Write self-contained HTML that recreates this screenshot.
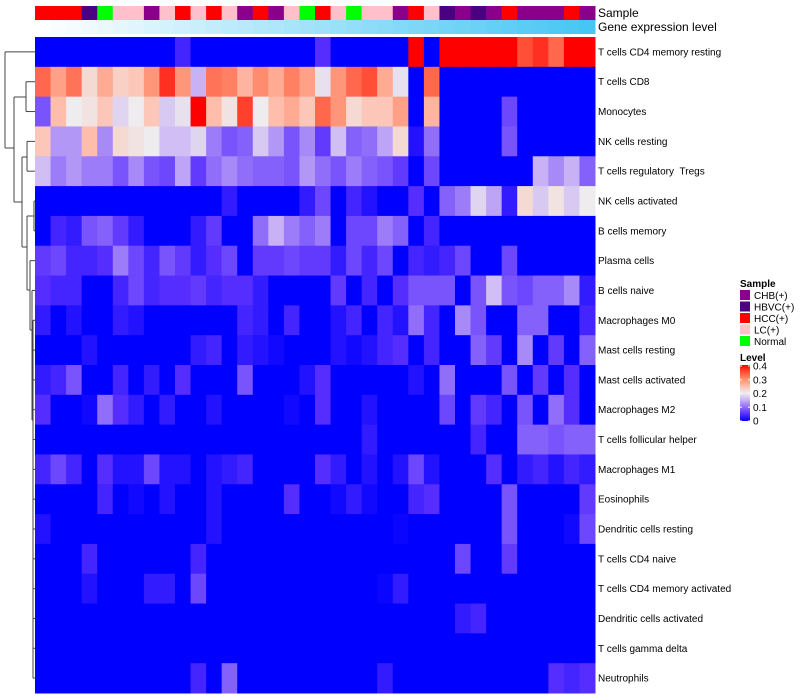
<!DOCTYPE html>
<html><head><meta charset="utf-8"><style>
body{margin:0;background:#fff;font-family:"Liberation Sans",sans-serif;}
svg{display:block}
</style></head><body>
<svg id="chart" width="800" height="700" viewBox="0 0 800 700" xmlns="http://www.w3.org/2000/svg" font-family="Liberation Sans, sans-serif"></svg>
<script>
const rowNames=["T cells CD4 memory resting","T cells CD8","Monocytes","NK cells resting","T cells regulatory \u00a0Tregs","NK cells activated","B cells memory","Plasma cells","B cells naive","Macrophages M0","Mast cells resting","Mast cells activated","Macrophages M2","T cells follicular helper","Macrophages M1","Eosinophils","Dendritic cells resting","T cells CD4 naive","T cells CD4 memory activated","Dendritic cells activated","T cells gamma delta","Neutrophils"];
const sampleGroups=["HCC","HCC","HCC","HBVC","Normal","LC","LC","CHB","LC","HCC","LC","HCC","LC","CHB","HCC","CHB","LC","Normal","HCC","LC","Normal","LC","LC","CHB","HCC","LC","HBVC","CHB","HBVC","CHB","HCC","CHB","CHB","CHB","HCC","CHB"];
const geneLevel=[0,0.03,0.06,0.08,0.11,0.14,0.17,0.2,0.23,0.26,0.29,0.32,0.35,0.38,0.41,0.44,0.47,0.5,0.52,0.55,0.58,0.61,0.64,0.67,0.7,0.72,0.75,0.78,0.8,0.83,0.86,0.89,0.91,0.94,0.97,1];
const v0=[0,0,0,0,0,0,0,0,0,0.04,0,0,0,0,0,0,0,0,0.05,0,0,0,0,0,0.4,0,0.4,0.4,0.4,0.4,0.4,0.35,0.37,0.33,0.4,0.4];
const v1=[0.33,0.28,0.32,0.22,0.27,0.23,0.24,0.29,0.37,0.29,0.15,0.32,0.31,0.26,0.3,0.27,0.31,0.28,0.19,0.29,0.33,0.35,0.27,0.19,0,0.33,0,0,0,0,0,0,0,0,0,0];
const v2=[0.08,0.25,0.2,0.21,0.24,0.18,0.2,0.24,0.17,0.19,0.4,0.25,0.21,0.36,0.2,0.25,0.27,0.24,0.33,0.29,0.22,0.24,0.24,0.28,0,0.26,0,0,0,0,0.07,0,0,0,0,0];
const v3=[0.24,0.13,0.13,0.25,0.12,0.22,0.21,0.2,0.16,0.16,0.18,0.11,0.08,0.09,0.17,0.13,0.08,0.12,0.06,0.16,0.09,0.1,0.14,0.22,0.02,0.1,0,0,0,0,0.08,0,0,0,0,0];
const v4=[0.16,0.11,0.13,0.11,0.11,0.08,0.12,0.08,0.07,0.14,0.06,0.1,0.12,0.1,0.09,0.09,0.08,0.13,0.1,0.08,0.11,0.09,0.08,0.06,0,0.07,0,0,0,0,0,0,0.15,0.12,0.15,0.09];
const v5=[0,0,0,0,0,0,0,0,0,0,0,0,0.03,0,0,0,0,0.03,0.07,0,0.04,0.02,0,0,0.05,0,0.09,0.11,0.18,0.14,0.03,0.22,0.17,0.21,0.17,0.2];
const v6=[0,0.04,0.03,0.08,0.09,0.06,0.03,0,0,0,0.03,0.06,0,0,0.1,0.15,0.11,0.09,0.11,0,0.07,0.07,0.11,0.09,0,0.04,0,0,0,0,0,0,0,0,0,0];
const v7=[0.06,0.07,0.04,0.04,0.05,0.11,0.07,0.04,0.08,0.06,0.03,0.05,0.07,0,0.06,0.06,0.07,0.06,0.06,0.03,0.07,0.04,0.07,0,0.04,0.03,0.04,0.07,0,0,0.07,0,0,0,0,0];
const v8=[0.05,0.04,0.04,0,0,0.04,0.07,0.04,0.05,0.05,0.06,0.04,0.05,0.05,0.03,0,0,0,0,0.06,0,0.04,0,0.05,0.08,0.08,0.08,0,0.08,0.16,0.08,0.07,0.09,0.09,0.12,0.03];
const v9=[0.03,0,0.02,0,0,0.03,0.02,0,0,0,0,0,0,0.04,0.03,0,0.04,0,0,0.02,0.04,0,0.04,0.02,0.1,0.04,0,0.12,0.08,0,0,0.09,0.09,0,0,0.04];
const v10=[0,0,0,0.02,0,0,0,0,0,0,0.03,0.04,0,0.03,0.02,0.01,0,0,0,0.02,0.01,0.02,0.04,0.05,0,0.04,0,0,0.09,0.06,0,0.12,0,0.06,0,0.09];
const v11=[0.03,0.04,0.08,0,0,0.04,0,0.03,0,0.05,0,0,0,0.08,0,0,0,0.02,0.05,0,0,0,0,0,0.02,0,0.1,0,0,0,0.08,0,0.06,0,0.05,0];
const v12=[0.05,0,0,0.01,0.1,0.05,0.03,0,0.03,0,0,0.02,0,0,0,0,0.01,0,0.05,0,0,0.02,0,0,0,0,0.07,0,0.06,0.04,0,0.08,0,0.1,0.05,0];
const v13=[0,0,0,0,0,0,0,0,0,0,0,0,0,0,0,0,0,0,0,0,0,0.03,0,0,0,0,0,0,0.04,0,0,0.09,0.09,0.08,0.09,0.09];
const v14=[0.04,0.07,0.04,0,0.05,0.02,0.02,0.07,0.02,0.02,0,0.02,0.03,0.04,0,0,0,0,0.05,0.03,0,0.02,0,0.02,0.07,0.02,0,0,0,0.05,0,0.03,0.04,0.02,0.04,0.03];
const v15=[0,0,0,0,0.04,0,0.01,0,0.02,0,0,0.02,0,0,0,0,0.05,0,0,0.01,0.03,0.01,0,0,0.04,0.05,0,0,0,0,0.08,0,0,0,0,0.06];
const v16=[0.02,0,0,0,0,0,0,0,0,0,0,0.02,0,0,0,0,0,0,0,0,0,0,0,0.005,0,0,0,0,0,0,0.08,0,0,0,0.01,0.07];
const v17=[0,0,0,0.04,0,0,0,0,0,0,0.04,0,0,0,0,0,0,0,0,0,0,0,0,0,0,0,0,0.07,0,0,0.06,0,0,0,0,0];
const v18=[0,0,0,0.02,0,0,0,0.03,0.03,0,0.07,0,0,0,0,0,0,0,0,0,0,0,0.005,0.03,0,0,0,0,0,0,0,0,0,0,0,0];
const v19=[0,0,0,0,0,0,0,0,0,0,0,0,0,0,0,0,0,0,0,0,0,0,0,0,0,0,0,0.03,0.04,0,0,0,0,0,0,0];
const v20=[0,0,0,0,0,0,0,0,0,0,0,0,0,0,0,0,0,0,0,0,0,0,0,0,0,0,0,0,0,0,0,0,0,0,0,0];
const v21=[0,0,0,0,0,0,0,0,0,0,0.04,0,0.09,0,0,0,0,0,0,0,0,0,0.03,0,0,0,0,0,0,0,0,0,0,0.05,0.04,0.05];
const values=[v0,v1,v2,v3,v4,v5,v6,v7,v8,v9,v10,v11,v12,v13,v14,v15,v16,v17,v18,v19,v20,v21];
const legendGroups=["CHB","HBVC","HCC","LC","Normal"];
const legendLabels=["CHB(+)","HBVC(+)","HCC(+)","LC(+)","Normal"];
const levelTicks=[0,0.1,0.2,0.3,0.4];

const groupColor={CHB:"#8B008B",HBVC:"#4B0082",HCC:"#FF0000",LC:"#FFC0CB",Normal:"#00FF00"};
const stops=[[0,[0,0,255]],[0.05,[85,45,255]],[0.1,[145,110,250]],[0.15,[200,178,245]],[0.2,[238,236,238]],[0.25,[255,190,172]],[0.3,[255,140,110]],[0.35,[255,80,55]],[0.4,[255,0,0]]];
function colorOf(v){v=Math.max(0,Math.min(0.4,v));for(let i=1;i<stops.length;i++){if(v<=stops[i][0]){const a=stops[i-1],b=stops[i],t=(v-a[0])/(b[0]-a[0]);const c=a[1].map((x,k)=>Math.round(x+(b[1][k]-x)*t));return `rgb(${c})`;}}return "rgb(255,0,0)";}
function geneColor(t){const a=[255,255,255],b=[70,198,244];return `rgb(${a.map((x,k)=>Math.round(x+(b[k]-x)*t))})`;}

const NS="http://www.w3.org/2000/svg",svg=document.getElementById("chart");
const X0=35,X1=595,Y0=37,Y1=693,nC=36,nR=rowNames.length;
const cw=(X1-X0)/nC,rh=(Y1-Y0)/nR;
const xs=j=>X0+j*cw, ys=i=>Y0+i*rh;
function mk(tag,attrs,parent){const e=document.createElementNS(NS,tag);for(const k in attrs)e.setAttribute(k,attrs[k]);(parent||svg).appendChild(e);return e;}

const gS=mk("g",{});


sampleGroups.forEach((g,j)=>{const r=mk("rect",{x:xs(j),y:6,width:cw+0.5,height:14,fill:groupColor[g]},gS);

});
const gG=mk("g",{});


geneLevel.forEach((t,j)=>{const r=mk("rect",{x:xs(j),y:20,width:cw+0.5,height:14,fill:geneColor(t)},gG);

});
let t=mk("text",{x:598,y:17,"font-size":12,fill:"#000"});t.textContent="Sample";


t=mk("text",{x:598,y:31,"font-size":12,fill:"#000"});t.textContent="Gene expression level";



const gH=mk("g",{});


values.forEach((row,i)=>row.forEach((v,j)=>{const r=mk("rect",{x:xs(j),y:ys(i),width:cw+0.5,height:rh+0.5,fill:colorOf(v)},gH);

}));
rowNames.forEach((n,i)=>{const e=mk("text",{x:598,y:ys(i)+rh/2+3.5,"font-size":10,fill:"#000"});e.textContent=n;

});

const cy=i=>ys(i)+rh/2;
const gD=mk("g",{stroke:"#444","stroke-width":1,fill:"none"});


const segs=[
[5,cy(0),5,148],[5,cy(0),35,cy(0)],[5,148,14,148],
[14,97,14,202],[14,97,26,97],[14,202,22,202],
[26,cy(1),26,cy(2)],[26,cy(1),35,cy(1)],[26,cy(2),35,cy(2)],
[22,157,22,247],[22,157,27,157],[22,247,27,247],
[27,cy(3),27,cy(4)],[27,cy(3),35,cy(3)],[27,cy(4),35,cy(4)],
[27,216,27,290],[27,216,34,216],[27,290,30,290],
[34,cy(5),34,cy(6)],[34,cy(5),35,cy(5)],[34,cy(6),35,cy(6)],
[30,cy(7),30,330],[30,cy(7),35,cy(7)],[30,330,32,330],
[32,cy(8),32,420],[32,cy(8),35,cy(8)],[32,420,33,420],
[33,cy(9),33,cy(21)]];
for(let i=9;i<=21;i++)segs.push([33,cy(i),35,cy(i)]);
segs.forEach(s=>{const l=mk("line",{x1:s[0],y1:s[1],x2:s[2],y2:s[3]},gD);

});

const gL=mk("g",{});


t=mk("text",{x:740,y:287,"font-size":10,"font-weight":"bold"},gL);t.textContent="Sample";
legendGroups.forEach((g,k)=>{const y=290+k*11.5;
const r=mk("rect",{x:740,y:y,width:10,height:10,fill:groupColor[g]},gL);


const e=mk("text",{x:754,y:y+9,"font-size":10},gL);e.textContent=legendLabels[k];

});
const gV=mk("g",{});


t=mk("text",{x:740,y:361,"font-size":10,"font-weight":"bold"},gV);t.textContent="Level";
const defs=mk("defs",{});const lg=mk("linearGradient",{id:"lv",x1:0,y1:1,x2:0,y2:0},defs);
stops.forEach(s=>mk("stop",{offset:s[0]/0.4,"stop-color":`rgb(${s[1]})`},lg));
const bar=mk("rect",{x:740,y:365,width:10,height:56,fill:"url(#lv)"},gV);


levelTicks.forEach(v=>{const y=421-v/0.4*55;
mk("line",{x1:740,x2:742,y1:y,y2:y,stroke:"#fff"},gV);mk("line",{x1:748,x2:750,y1:y,y2:y,stroke:"#fff"},gV);
const e=mk("text",{x:753,y:y+3.5,"font-size":10},gV);e.textContent=String(v);

});
</script>
</body></html>
